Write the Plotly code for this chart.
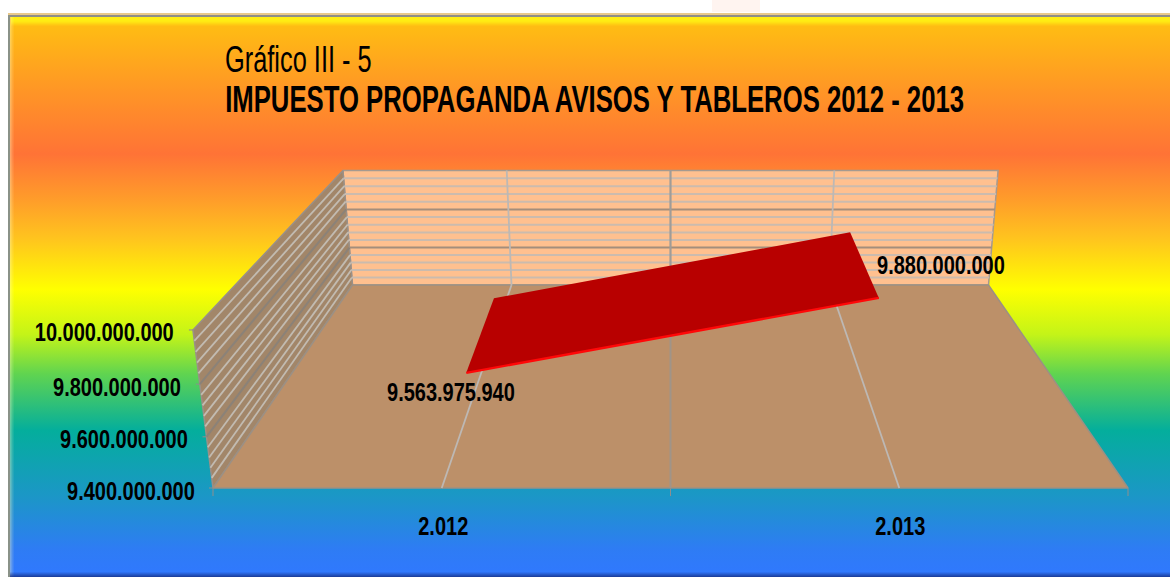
import plotly.graph_objects as go

# ---- data ----
categories = ["2.012", "2.013"]
values = [9563975940, 9880000000]
axis_ticks = [9400000000, 9600000000, 9800000000, 10000000000]
minor_step = 40000000
title_line1 = "Gráfico III - 5"
title_line2 = "IMPUESTO PROPAGANDA AVISOS Y TABLEROS 2012 - 2013"

Z_MIN, Z_MAX = axis_ticks[0], axis_ticks[-1]
FONT = "Liberation Sans, Arial, sans-serif"


def fmt(v):
    return f"{v:,}".replace(",", ".")


# ---- oblique 3-D view: u across, v into the page, w up (all 0..1) -> page position ----
def proj(u, v, w):
    q = 1 + 0.4387 * v - 0.042 * w
    return 670.5 + (u - 0.5) * 915 / q, (488 - 78 * v - 171.9 * w) / q


def wz(z):
    return (z - Z_MIN) / (Z_MAX - Z_MIN)


def poly(pts, fill, line=None, width=1, close=True):
    p = [proj(*a) for a in pts]
    if close:
        p.append(p[0])
    return go.Scatter(
        x=[a[0] for a in p], y=[a[1] for a in p], mode="lines",
        fill="toself" if fill else None, fillcolor=fill,
        line=dict(color=line or "rgba(0,0,0,0)", width=width),
        hoverinfo="skip", showlegend=False,
    )


def seg(a, b, color, width=1):
    return poly([a, b], None, color, width, close=False)


traces = []
# backdrop gradient
traces.append(go.Scatter(
    x=[8, 1170, 1170, 8, 8], y=[13, 13, 577, 577, 13], mode="lines", fill="toself",
    line=dict(width=0), hoverinfo="skip", showlegend=False,
    fillcolor="rgba(0,0,0,0)",
    fillgradient=dict(type="vertical", colorscale=[
        [0.00, "#3078FF"], [0.05, "#2E7CF4"], [0.14, "#1C96C8"], [0.26, "#04AE9C"],
        [0.36, "#60D450"], [0.43, "#C4F418"], [0.51, "#FFFF00"], [0.60, "#FFC41E"],
        [0.67, "#FF9C2A"], [0.75, "#FF7336"], [0.86, "#FF9526"], [1.00, "#FFC40F"],
    ]),
))

# walls and floor
traces.append(poly([(0, 1, 0), (1, 1, 0), (1, 1, 1), (0, 1, 1)], "#FFC08F", "#A59A90", 1.5))
traces.append(poly([(0, 0, 0), (0, 1, 0), (0, 1, 1), (0, 0, 1)], "#A28669", "#9A9088", 1.5))
traces.append(poly([(0, 0, 0), (1, 0, 0), (1, 1, 0), (0, 1, 0)], "#BC9069", "#9C9084", 1.5))

# gridlines on both walls
z = Z_MIN + minor_step
while z < Z_MAX:
    w = wz(z)
    major = z in axis_ticks
    c_back = "#A48E7C" if major else "#CBBBAE"
    c_left = "#8B8278" if major else "#C2BBB1"
    traces.append(seg((0, 1, w), (1, 1, w), c_back, 2 if major else 2))
    traces.append(seg((0, 0, w), (0, 1, w), c_left, 2 if major else 1.8))
    z += minor_step

# vertical gridlines
for u, col, wd in [(0.25, "#BDB8B4", 1.8), (0.5, "#A09C98", 2.2), (0.75, "#BDB8B4", 1.8)]:
    traces.append(seg((u, 1, 0), (u, 1, 1), col, wd))
traces.append(seg((0.25, 0, 0), (0.25, 1, 0), "#BDB8B4", 1.8))
traces.append(seg((0.75, 0, 0), (0.75, 1, 0), "#BDB8B4", 1.8))
traces.append(seg((0.5, 0, 0), (0.5, 1, 0), "#A09488", 2))

# ticks
for t in axis_ticks:
    x, y = proj(0, 0, wz(t))
    traces.append(go.Scatter(x=[x - 4, x], y=[y, y], mode="lines", line=dict(color="#8E8E8E", width=1),
                             hoverinfo="skip", showlegend=False))
for u in (0, 0.5, 1):
    x, y = proj(u, 0, 0)
    traces.append(go.Scatter(x=[x, x], y=[y, y + 8], mode="lines", line=dict(color="#8E8E8E", width=1),
                             hoverinfo="skip", showlegend=False))

# the series ribbon
U = [0.25, 0.75]
W = [wz(v) for v in values]
V0, V1 = 0.3, 0.7
traces.append(poly([(U[0], V0, W[0]), (U[1], V0, W[1]), (U[1], V1, W[1]), (U[0], V1, W[0])], "#B80000"))
traces.append(seg((U[0], V0, W[0]), (U[1], V0, W[1]), "#FF0808", 2.4))

annotations = []


def label(x, y, text, size=25, bold=True, anchor="center", xshift=0, yshift=0):
    annotations.append(dict(
        x=x, y=y, xref="x", yref="y", text=f"<b>{text}</b>" if bold else text,
        showarrow=False, xanchor=anchor, yanchor="middle", xshift=xshift, yshift=yshift,
        font=dict(family=FONT, size=size, color="#000000"),
    ))


for t in axis_ticks:
    x, y = proj(0, 0, wz(t))
    label(x, y, fmt(t), anchor="right", xshift=-16.5, yshift=-2.5)
for c, u in zip(categories, U):
    x, y = proj(u, 0, 0)
    label(x, y, c, xshift=1.5, yshift=-38)
x, y = proj(U[0], V0, W[0])
label(x, y, fmt(values[0]), xshift=-15, yshift=-19)
x, y = proj(U[1], V0, W[1])
label(x, y, fmt(values[1]), xshift=62, yshift=33)

annotations.append(dict(x=223, y=59, xref="x", yref="y", text=title_line1, showarrow=False,
                        xanchor="left", yanchor="middle",
                        font=dict(family=FONT, size=36, color="#000000")))
annotations.append(dict(x=223, y=99, xref="x", yref="y", text=f"<b>{title_line2}</b>", showarrow=False,
                        xanchor="left", yanchor="middle",
                        font=dict(family=FONT, size=36.5, color="#000000")))

# frame bevels
shapes = []
def rect(x0, y0, x1, y1, color):
    shapes.append(dict(type="rect", xref="x", yref="y", x0=x0, y0=y0, x1=x1, y1=y1,
                       fillcolor=color, line=dict(width=0), layer="above"))

rect(8, 13, 1170, 15, "#E9C98A")
rect(8, 15, 1170, 17, "#8E8E88")
for i, a in enumerate([1, 1, 1, 0.95, 0.85, 0.7, 0.5, 0.3, 0.15]):
    rect(11, 17 + i, 1170, 18 + i, f"rgba(255,238,20,{a})")
rect(8, 15, 10, 577, "#8A9288")
for i, a in enumerate([0.35, 0.25, 0.15, 0.08]):
    rect(10 + i, 17, 11 + i, 577, f"rgba(255,255,200,{a})")
for i, a in enumerate([0.1, 0.25, 0.4, 0.55, 0.7]):
    rect(10, 572 + i, 1170, 573 + i, f"rgba(20,40,120,{a})")
rect(712, 0, 760, 12, "#FFF4F0")

fig = go.Figure(traces)
fig.update_layout(
    width=1170, height=577, margin=dict(l=0, r=0, t=0, b=0),
    paper_bgcolor="#FFFFFF", plot_bgcolor="#FFFFFF", showlegend=False,
    xaxis=dict(range=[0, 1170], visible=False, fixedrange=True),
    yaxis=dict(range=[577, 0], visible=False, fixedrange=True),
    annotations=annotations, shapes=shapes,
)

# page without body margin; the text is condensed horizontally (no narrow font is installed)
POST = """
document.documentElement.style.overflow='hidden';
document.body.style.margin='0';
var gd=document.getElementById('{plot_id}');
gd.querySelectorAll('.annotation').forEach(function(g){
  var i=+g.getAttribute('data-index'), a=gd.layout.annotations[i];
  var t=g.querySelector('text'), b=t.getBBox();
  var s=a.font.size>30?(i===gd.layout.annotations.length-1?0.704:0.705):0.80;
  var o=a.xanchor==='left'?b.x:(a.xanchor==='right'?b.x+b.width:b.x+b.width/2);
  t.setAttribute('transform','translate('+o+',0) scale('+s+',1) translate('+(-o)+',0)');
});
"""
fig.write_html("out.html", config=dict(displayModeBar=False), post_script=POST)
